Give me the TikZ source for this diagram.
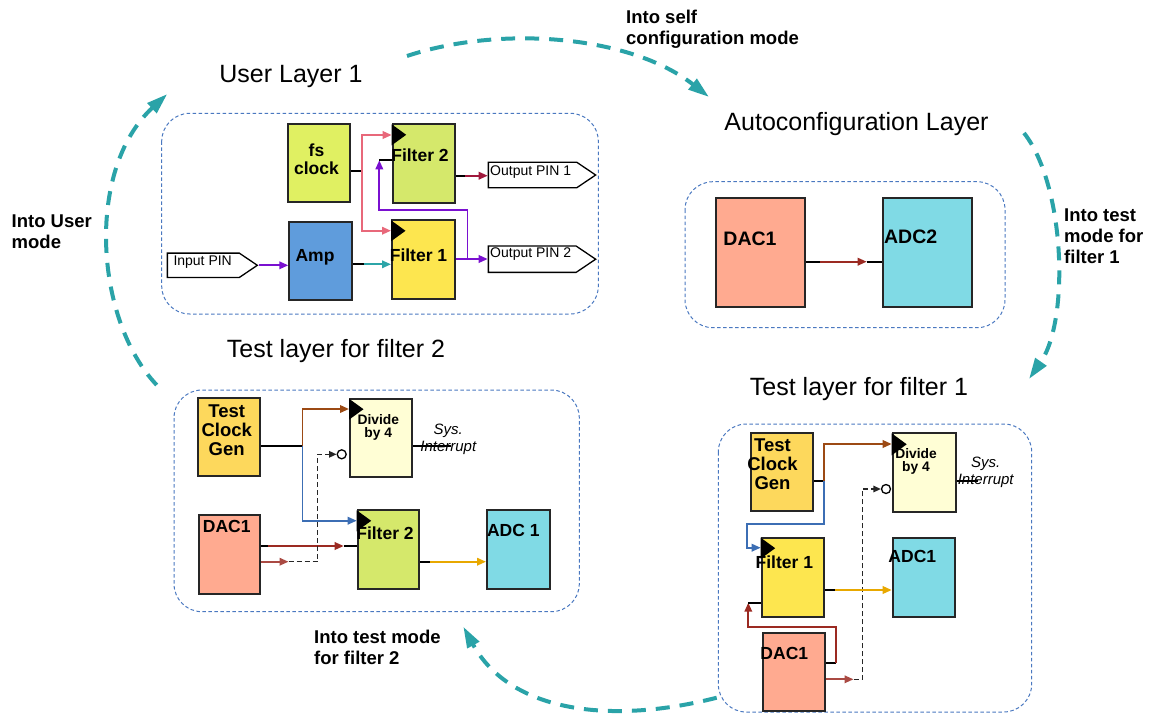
\documentclass[tikz,border=0pt]{standalone}
\usepackage{fontspec}
\setmainfont{Liberation Sans}
\usetikzlibrary{arrows.meta,shapes.symbols,calc}
\definecolor{limeA}{HTML}{E0F062}
\definecolor{limeB}{HTML}{D5E86B}
\definecolor{yelF}{HTML}{FDE64F}
\definecolor{ampblue}{HTML}{5F9CDC}
\definecolor{salmon}{HTML}{FFAA90}
\definecolor{cyanB}{HTML}{80DAE5}
\definecolor{tcgor}{HTML}{FDD85C}
\definecolor{divy}{HTML}{FFFED5}
\definecolor{panelblue}{HTML}{4A78C0}
\definecolor{arcteal}{HTML}{2AA3A8}
\definecolor{cpink}{HTML}{E8687A}
\definecolor{cteal}{HTML}{2CA5A8}
\definecolor{cpurple}{HTML}{7A10D0}
\definecolor{ccrim}{HTML}{A0183C}
\definecolor{cdred}{HTML}{9B2A22}
\definecolor{cbrown}{HTML}{9C4A14}
\definecolor{cblue}{HTML}{3C6EB4}
\definecolor{corange}{HTML}{E8A800}
\begin{document}
\begin{tikzpicture}[x=1pt,y=-1pt,
  panel/.style={draw=panelblue, line width=1pt, dash pattern=on 3.5pt off 2.5pt, rounded corners=28pt},
  box/.style={draw=black!85, line width=1.8pt, anchor=north west, inner sep=0pt},
  blbl/.style={font=\bfseries\fontsize{17.5}{18.5}\selectfont, align=center, inner sep=0pt},
  slbl/.style={font=\bfseries\fontsize{13.8}{13.5}\selectfont, align=center, inner sep=0pt},
  pinbox/.style={signal, signal to=east, draw=black, line width=1.3pt, inner sep=0pt, signal pointer angle=68, anchor=west},
  pintext/.style={font=\fontsize{14}{16}\selectfont, anchor=west, inner sep=0pt},
  systext/.style={font=\itshape\fontsize{15}{17}\selectfont, align=center, inner sep=0pt},
  title/.style={font=\fontsize{25}{28}\selectfont, anchor=base, inner sep=0pt},
  note/.style={font=\bfseries\fontsize{18.5}{21}\selectfont, align=left, anchor=west, inner sep=0pt},
  conn/.style={line width=1.9pt},
  tip/.style={-{Triangle[length=9pt,width=7.5pt]}},
  flow/.style={draw=arcteal, line width=4pt, dash pattern=on 14pt off 10pt, -{Triangle[length=21pt,width=13pt]}},
  clkmark/.style={fill=black},
  inv/.style={circle, draw=black, fill=white, line width=1.3pt, minimum size=9pt, inner sep=0pt}
]
\useasboundingbox (0,0) rectangle (1151,716);

% ---------- panels ----------
\draw[panel] (161.7,113.3) rectangle (598.3,314);
\draw[panel] (685,181.7) rectangle (1005,327.7);
\draw[panel] (174,390) rectangle (579.3,611.7);
\draw[panel] (718.3,424) rectangle (1031.7,712);

% ---------- titles ----------
\node[title] (tUser) at (291,82) {User Layer 1};
\node[title] (tAuto) at (856.5,130) {Autoconfiguration Layer};
\node[title] (tT2) at (336,357) {Test layer for filter 2};
\node[title] (tT1) at (859,395) {Test layer for filter 1};

% ---------- notes ----------
\node[note] (nSelf) at (626,29) {Into self\\configuration mode};
\node[note] (nUser) at (11.5,232) {Into User\\mode};
\node[note] (nT1) at (1064,236) {Into test\\mode for\\filter 1};
\node[note] (nT2) at (314,647) {Into test mode\\for filter 2};

% ---------- flow arcs ----------
\draw[flow] (407,56) .. controls (500,25) and (630,35) .. (709,97);
\draw[flow] (1024,133) .. controls (1065,185) and (1070,320) .. (1029,379);
\draw[flow] (716.7,697.7) .. controls (610,725) and (510,712) .. (463.3,626.7);
\draw[flow] (156.7,385) .. controls (95,320) and (85,170) .. (167.3,94);

% ================= User Layer 1 =================
\node[box, fill=limeA, minimum width=62.6pt, minimum height=78pt] (fs) at (286.7,122.7) {};
\node[box, fill=limeB, minimum width=62.3pt, minimum height=79pt] (f2) at (391.7,123.3) {};
\node[box, fill=ampblue, minimum width=62.4pt, minimum height=78.3pt] (amp) at (288.3,221) {};
\node[box, fill=yelF, minimum width=63pt, minimum height=78.4pt] (f1) at (391,219.3) {};
\node[pinbox, minimum width=90pt, minimum height=24.4pt] (inpin) at (166.7,265.3) {};
\node[pinbox, minimum width=107.3pt, minimum height=25.4pt] (op1) at (487.7,175) {};
\node[pinbox, minimum width=107.3pt, minimum height=26.3pt] (op2) at (487.7,259.2) {};
\fill[clkmark] ($(f2.north west)+(0,1)$) -- ++(14.5,10.5) -- ++(-14.5,10.5) -- cycle;
\fill[clkmark] ($(f1.north west)+(0,1)$) -- ++(14.5,10.5) -- ++(-14.5,10.5) -- cycle;
\node[blbl] (lfs) at (316.5,159) {fs\\clock};
\node[blbl] (lf2) at (420,155) {Filter 2};
\node[blbl] (lamp) at (315,257) {Amp};
\node[blbl] (lf1) at (418.5,255.7) {Filter 1};
\node[pintext] (linpin) at (173.3,261.7) {Input PIN};
\node[pintext] (lop1) at (490,172.3) {Output PIN 1};
\node[pintext] (lop2) at (490,254.3) {Output PIN 2};

\coordinate (fsout) at ($(fs.north east)+(0,48.3)$);
\coordinate (fsj) at ($(fsout)+(10.5,0)$);
\draw[conn,black] (fsout) -- (fsj);
\draw[conn,cpink,tip] (fsj) |- ($(f2.north west)+(0,11.7)$);
\draw[conn,cpink,tip] (fsj) |- ($(f1.north west)+(0,11.4)$);
\coordinate (ampout) at ($(amp.north east)+(0,43.3)$);
\draw[conn,black] (ampout) -- ++(11,0) coordinate (ampj);
\draw[conn,cteal,tip] (ampj) -- (ampj -| f1.west);
\draw[conn,cpurple,tip] (inpin.east) -- (inpin.east -| amp.west);
\coordinate (f1out) at ($(f1.north east)+(0,39.7)$);
\draw[conn,cpurple,tip] (f1out) -- (f1out -| op2.west);
\coordinate (fbk) at ($(f2.north west)+(-12.4,37)$);
\draw[conn,cpurple,tip] ($(f1out)+(11.7,0)$) -- ++(0,-49) -| (fbk);
\draw[conn,black] (fbk) -- (fbk -| f2.west);
\coordinate (f2out) at ($(f2.north east)+(0,52.4)$);
\draw[conn,black] (f2out) -- ++(9.5,0) coordinate (f2j);
\draw[conn,ccrim,tip] (f2j) -- (f2j -| op1.west);

% ================= Autoconfiguration Layer =================
\node[box, fill=salmon, minimum width=89.3pt, minimum height=109.3pt] (da) at (715,196.7) {};
\node[box, fill=cyanB, minimum width=89.3pt, minimum height=109.3pt] (ad) at (881.7,196.7) {};
\node[blbl, font=\bfseries\fontsize{19.5}{20}\selectfont] (lda) at (750,238.3) {DAC1};
\node[blbl, font=\bfseries\fontsize{19.5}{20}\selectfont] (lad) at (910.7,236.7) {ADC2};
\coordinate (daout) at ($(da.north east)+(0,65)$);
\draw[conn,black] (daout) -- ++(14,0) coordinate (daj1);
\coordinate (daj2) at ($(daout -| ad.west)+(-15,0)$);
\draw[conn,cdred,tip] (daj1) -- (daj2);
\draw[conn,black] (daj2) -- (daout -| ad.west);

% ================= Test layer for filter 2 =================
\node[box, fill=tcgor, minimum width=62.6pt, minimum height=77.7pt] (tcg2) at (196.7,397.3) {};
\node[box, fill=divy, minimum width=61.7pt, minimum height=78pt] (div2) at (349,397.7) {};
\node[box, fill=salmon, minimum width=61.6pt, minimum height=78.4pt] (dac2) at (197.7,514.3) {};
\node[box, fill=limeB, minimum width=61.6pt, minimum height=78.4pt] (flt2) at (356.7,509.3) {};
\node[box, fill=cyanB, minimum width=63pt, minimum height=78.4pt] (adc2) at (486,509.3) {};
\fill[clkmark] ($(div2.north west)+(0,1)$) -- ++(14.5,10.5) -- ++(-14.5,10.5) -- cycle;
\fill[clkmark] ($(flt2.north west)+(0,1)$) -- ++(14.5,10.5) -- ++(-14.5,10.5) -- cycle;
\node[blbl, font=\bfseries\fontsize{18.5}{19}\selectfont] (ltcg2) at (226.7,430.5) {Test\\Clock\\Gen};
\node[slbl] (ldiv2) at (378.3,427.5) {Divide\\by 4};
\node[blbl] (ldac2) at (226.7,526.7) {DAC1};
\node[blbl] (lflt2) at (385,533.3) {Filter 2};
\node[blbl] (ladc2) at (513.3,530.7) {ADC 1};
\node[inv] (inv2) at ($(div2.north west)+(-7.3,56.6)$) {};

\coordinate (tcgout2) at ($(tcg2.north east)+(0,48.7)$);
\coordinate (tcgj2) at ($(tcgout2)+(41.4,0)$);
\draw[conn,black] (tcgout2) -- (tcgj2);
\draw[conn,cbrown,tip] (tcgj2) |- ($(div2.north west)+(0,11.3)$);
\draw[conn,cblue,tip] (tcgj2) |- ($(flt2.north west)+(0,11.4)$);
\coordinate (dac2o1) at ($(dac2.north east)+(0,31.7)$);
\draw[conn,black] (dac2o1) -- ++(7,0) coordinate (dac2j1);
\coordinate (dac2e1) at ($(dac2o1 -| flt2.west)+(-13,0)$);
\draw[conn,cdred,tip] (dac2j1) -- (dac2e1);
\draw[conn,black] (dac2e1) -- (dac2o1 -| flt2.west);
\coordinate (dac2o2) at ($(dac2.north east)+(0,47.4)$);
\draw[conn,cdred!85,tip] (dac2o2) -- ++(27.4,0) coordinate (dac2j2);
\draw[line width=1.4pt,black!85,dash pattern=on 5pt off 3pt,-{Triangle[length=7.5pt,width=6.5pt]}] (dac2j2) -- ++(29,0) |- (inv2.west);
\coordinate (flt2out) at ($(flt2.north east)+(0,52.4)$);
\draw[conn,black] (flt2out) -- ++(10,0) coordinate (flt2j);
\draw[conn,corange,tip] (flt2j) -- (flt2j -| adc2.west);
\draw[conn,black] ($(div2.north east)+(0,48.3)$) -- ++(38,0) coordinate (sys2);
\node[systext] (lsys2) at (448.3,439) {Sys.\\Interrupt};

% ================= Test layer for filter 1 =================
\node[box, fill=tcgor, minimum width=62.3pt, minimum height=78.3pt] (tcg1) at (750,431.7) {};
\node[box, fill=divy, minimum width=63.3pt, minimum height=78.4pt] (div1) at (891.7,432.3) {};
\node[box, fill=yelF, minimum width=62.6pt, minimum height=79pt] (flt1) at (760.7,536.7) {};
\node[box, fill=cyanB, minimum width=62.6pt, minimum height=79pt] (adc1) at (891.7,536.7) {};
\node[box, fill=salmon, minimum width=62pt, minimum height=78pt] (dac1) at (762.3,632.3) {};
\fill[clkmark] ($(div1.north west)+(0,1)$) -- ++(15,11) -- ++(-15,11) -- cycle;
\fill[clkmark] ($(flt1.north west)+(0,1)$) -- ++(14.5,10.5) -- ++(-14.5,10.5) -- cycle;
\node[blbl, font=\bfseries\fontsize{18.5}{19}\selectfont] (ltcg1) at (772.5,464.3) {Test\\Clock\\Gen};
\node[slbl] (ldiv1) at (916,461.5) {Divide\\by 4};
\node[blbl] (lflt1) at (784.3,562.7) {Filter 1};
\node[blbl] (ladc1) at (912.3,556.7) {ADC1};
\node[blbl] (ldac1) at (784.3,653.3) {DAC1};
\node[inv] (inv1) at ($(div1.north west)+(-5.7,56.7)$) {};

\coordinate (tcgout1) at ($(tcg1.north east)+(0,49)$);
\coordinate (tcgj1) at ($(tcgout1)+(10,0)$);
\draw[conn,black] (tcgout1) -- (tcgj1);
\draw[conn,cbrown,tip] (tcgj1) |- ($(div1.north west)+(0,11.7)$);
\draw[conn,cblue,tip] (tcgj1) -- ++(0,43.6) -| ($(flt1.north west)+(-13.4,11)$) -- ($(flt1.north west)+(0,11)$);
\coordinate (dac1o1) at ($(dac1.north east)+(0,31)$);
\draw[conn,black] (dac1o1) -- ++(10,0) coordinate (dac1j1);
\coordinate (dac1in) at ($(flt1.north west)+(-12.4,66)$);
\draw[conn,cdred,tip] (dac1j1) -- ($(dac1j1 |- flt1.south)+(0,9.3)$) -| (dac1in);
\draw[conn,black] (dac1in) -- (dac1in -| flt1.west);
\coordinate (dac1o2) at ($(dac1.north east)+(0,47)$);
\draw[conn,cdred!85,tip] (dac1o2) -- ++(27.4,0) coordinate (dac1j2);
\draw[line width=1.4pt,black!85,dash pattern=on 5pt off 3pt,-{Triangle[length=7.5pt,width=6.5pt]}] (dac1j2) -- ++(9,0) |- (inv1.west);
\coordinate (flt1out) at ($(flt1.north east)+(0,53.3)$);
\draw[conn,black] (flt1out) -- ++(10,0) coordinate (flt1j);
\draw[conn,corange,tip] (flt1j) -- (flt1j -| adc1.west);
\draw[conn,black] ($(div1.north east)+(0,48.7)$) -- ++(21,0) coordinate (sys1);
\node[systext] (lsys1) at (985.7,472.5) {Sys.\\Interrupt};
\end{tikzpicture}
\end{document}
